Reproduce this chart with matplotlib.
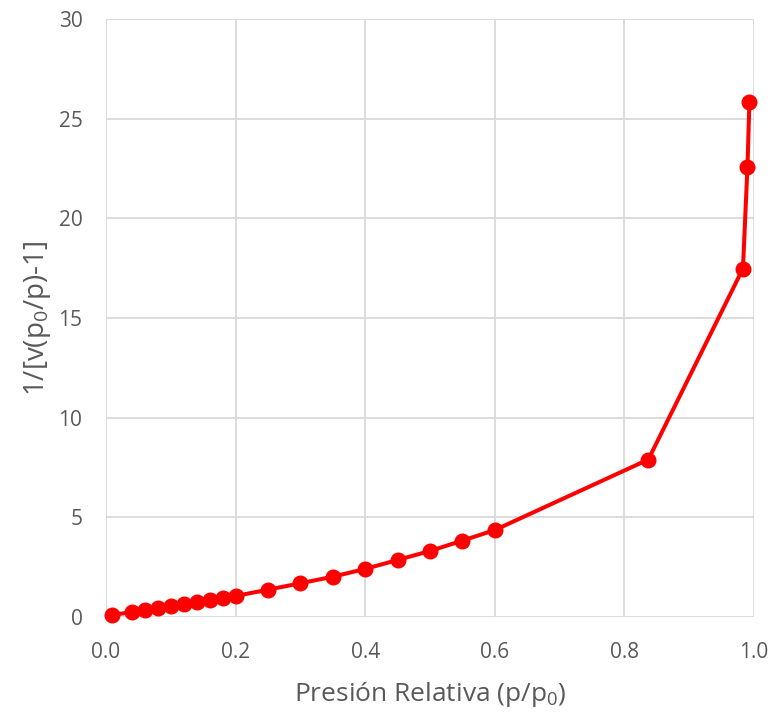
import matplotlib
matplotlib.use("Agg")
import matplotlib.pyplot as plt

# BET transform data: relative pressure vs 1/[v(p0/p)-1]
p_rel = [0.01, 0.04, 0.06, 0.08, 0.10, 0.12, 0.14, 0.16, 0.18, 0.20,
         0.25, 0.30, 0.35, 0.40, 0.45, 0.50, 0.55, 0.60, 0.837, 0.983,
         0.990, 0.993]
bet_y = [0.1, 0.25, 0.35, 0.45, 0.55, 0.65, 0.75, 0.85, 0.95, 1.05,
         1.37, 1.69, 2.02, 2.41, 2.86, 3.31, 3.83, 4.36, 7.9, 17.48,
         22.6, 25.85]

x_ticks = [0.0, 0.2, 0.4, 0.6, 0.8, 1.0]
y_ticks = [0, 5, 10, 15, 20, 25, 30]

TXT = "#595959"
GRID = "#d9d9d9"
plt.rcParams["font.family"] = ["Open Sans", "DejaVu Sans"]
plt.rcParams["mathtext.fontset"] = "custom"
plt.rcParams["mathtext.rm"] = "Open Sans"
plt.rcParams["mathtext.it"] = "Open Sans"
plt.rcParams["mathtext.default"] = "regular"

fig = plt.figure(figsize=(7.76, 7.15), dpi=100)
ax = fig.add_axes([0.1366, 0.1371, 0.835, 0.8363])

ax.plot(p_rel, bet_y, color="#ff0000", lw=2.9, marker="o", ms=10.5,
        zorder=3, clip_on=False)

ax.set_xlim(0, 1.0)
ax.set_ylim(0, 30)
ax.set_xticks(x_ticks)
ax.set_xticklabels([f"{v:.1f}" for v in x_ticks])
ax.set_yticks(y_ticks)
ax.grid(True, color=GRID, lw=1.3)
ax.set_axisbelow(True)
for sp in ax.spines.values():
    sp.set_visible(False)
ax.tick_params(length=0, labelsize=15, colors=TXT)
ax.tick_params(axis="x", pad=18)
ax.tick_params(axis="y", pad=17)

ax.set_xlabel(r"Presión Relativa (p/p$_0$)", color=TXT, fontsize=19, labelpad=12)
ax.set_ylabel(r"1/[v(p$_0$/p)-1]", color=TXT, fontsize=20, labelpad=4)

fig.savefig("out.png", dpi=100)
